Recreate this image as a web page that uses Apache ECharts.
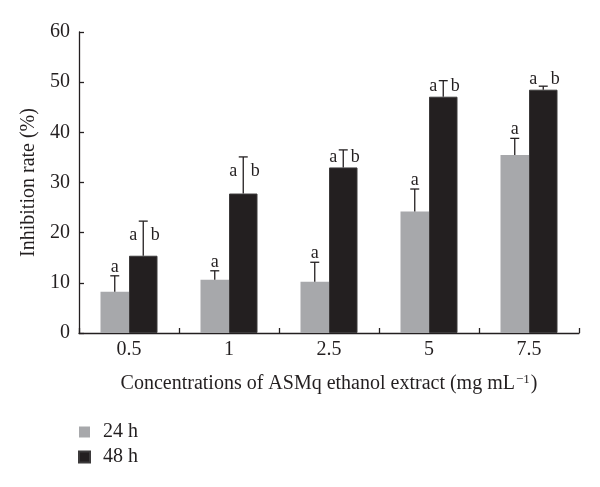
<!DOCTYPE html>
<html>
<head>
<meta charset="utf-8">
<script src="https://cdn.jsdelivr.net/npm/echarts@6/dist/echarts.min.js"></script>
<style>html,body{margin:0;padding:0;background:#fff;}#c{width:600px;height:487px;}</style>
</head>
<body>
<div id="c"></div>
<script>
var categories = ['0.5', '1', '2.5', '5', '7.5'];
var seriesNames = ['24 h', '48 h'];
var values24 = [8.2, 10.6, 10.2, 24.2, 35.5];
var errors24 = [3.2, 1.8, 3.9, 4.5, 3.3];
var values48 = [15.4, 27.8, 33.0, 47.1, 48.5];
var errors48 = [6.9, 7.3, 3.5, 3.2, 0.7];
var letters24 = ['a', 'a', 'a', 'a', 'a'];
var letters48 = [['a', 'b'], ['a', 'b'], ['a', 'b'], ['a', 'b'], ['a', 'b']];
var yTicks = [0, 10, 20, 30, 40, 50, 60];

var FONT = '"Liberation Serif", "DejaVu Serif", serif';
var FS = 20;
var GRAY = '#a7a8ab';
var BLACK = '#231f20';
var BAR_W = 28.5;

function errItem(which) {
  return function (params, api) {
    var i = params.dataIndex;
    var v = api.value(1), e = api.value(2);
    var base = api.coord([api.value(0), v]);
    var top = api.coord([api.value(0), v + e]);
    var x = base[0] + (which === 0 ? -BAR_W / 2 : BAR_W / 2);
    var children = [
      { type: 'line', shape: { x1: x, y1: base[1], x2: x, y2: top[1] }, style: { stroke: '#231f20', lineWidth: 1.3 } },
      { type: 'line', shape: { x1: x - 4.5, y1: top[1], x2: x + 4.5, y2: top[1] }, style: { stroke: '#231f20', lineWidth: 1.3 } }
    ];
    if (which === 0) {
      children.push({ type: 'text', style: { text: letters24[i], x: x, y: top[1] - 9, align: 'center', verticalAlign: 'middle', font: '18px ' + FONT, fill: '#231f20' } });
    } else {
      var ly = Math.min(top[1] + 14, base[1] - 10);
      children.push({ type: 'text', style: { text: letters48[i][0], x: x - 10, y: ly, align: 'center', verticalAlign: 'middle', font: '18px ' + FONT, fill: '#231f20' } });
      children.push({ type: 'text', style: { text: letters48[i][1], x: x + 12, y: ly, align: 'center', verticalAlign: 'middle', font: '18px ' + FONT, fill: '#231f20' } });
    }
    return { type: 'group', children: children };
  };
}

var chart = echarts.init(document.getElementById('c'), null, { renderer: 'canvas' });
chart.setOption({
  animation: false,
  backgroundColor: '#fff',
  textStyle: { fontFamily: FONT },
  grid: { left: 79, right: 21, top: 32, bottom: 154, containLabel: false },
  legend: {
    orient: 'vertical', left: 78, top: 421, padding: 0,
    itemWidth: 11, itemHeight: 11, itemGap: 3,
    icon: 'rect',
    data: seriesNames,
    textStyle: { fontFamily: FONT, fontSize: FS, lineHeight: 22, color: '#231f20', padding: [0, 0, 0, 8] }
  },
  xAxis: {
    type: 'category', data: categories,
    name: '{a|Concentrations of ASMq ethanol extract (mg mL}{s|−1}{a|)}',
    nameLocation: 'middle', nameGap: 40,
    nameTextStyle: { rich: { a: { fontFamily: FONT, fontSize: FS, color: '#231f20' }, s: { fontFamily: FONT, fontSize: 13, color: '#231f20', verticalAlign: 'top', padding: [0, 1, 8, 1] } } },
    axisLine: { lineStyle: { color: '#231f20', width: 1.3 } },
    axisTick: { show: true, inside: true, length: 5, lineStyle: { color: '#231f20', width: 1.3 } },
    axisLabel: { fontFamily: FONT, fontSize: FS, color: '#231f20', margin: 7 },
    splitLine: { show: false }
  },
  yAxis: {
    type: 'value', min: 0, max: 60, interval: 10,
    name: 'Inhibition rate (%)', nameLocation: 'middle', nameGap: 33,
    nameTextStyle: { fontFamily: FONT, fontSize: FS, color: '#231f20' },
    axisLine: { show: true, lineStyle: { color: '#231f20', width: 1.3 } },
    axisTick: { show: true, inside: true, length: 5, lineStyle: { color: '#231f20', width: 1.3 } },
    axisLabel: { fontFamily: FONT, fontSize: FS, color: '#231f20', margin: 9, formatter: function (v) { return yTicks.indexOf(v) >= 0 ? String(v) : ''; } },
    splitLine: { show: false }
  },
  series: [
    { name: seriesNames[0], type: 'bar', data: values24, barWidth: BAR_W, barGap: '0%', itemStyle: { color: GRAY } },
    { name: seriesNames[1], type: 'bar', data: values48, barWidth: BAR_W, barGap: '0%', itemStyle: { color: BLACK, borderColor: '#3c3a3b', borderWidth: 1 } },
    { type: 'custom', renderItem: errItem(0), data: values24.map(function (v, i) { return [i, v, errors24[i]]; }), z: 5, silent: true },
    { type: 'custom', renderItem: errItem(1), data: values48.map(function (v, i) { return [i, v, errors48[i]]; }), z: 5, silent: true }
  ]
});
</script>
</body>
</html>
